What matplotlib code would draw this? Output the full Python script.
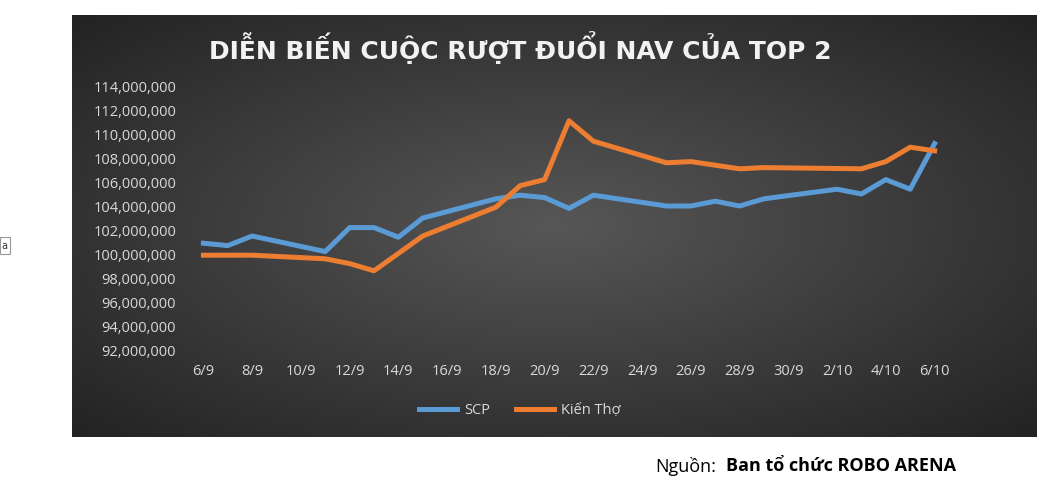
import numpy as np
import matplotlib
matplotlib.use("Agg")
import matplotlib.pyplot as plt
from matplotlib.patches import Rectangle

dates = ["6/9","7/9","8/9","9/9","10/9","11/9","12/9","13/9","14/9","15/9","16/9","17/9","18/9","19/9","20/9",
         "21/9","22/9","23/9","24/9","25/9","26/9","27/9","28/9","29/9","30/9","1/10","2/10","3/10","4/10","5/10","6/10"]
scp_idx = [0,1,2,5,6,7,8,9,12,13,14,15,16,19,20,21,22,23,26,27,28,29,30]
scp_val = [100.9,100.7,101.5,100.2,102.2,102.2,101.4,103.0,104.6,104.9,104.7,103.8,104.9,104.0,104.0,104.4,104.0,104.6,105.4,105.0,106.2,105.4,109.2]
kt_idx = [0,2,5,6,7,8,9,12,13,14,15,16,19,20,22,23,27,28,29,30]
kt_val = [99.9,99.9,99.6,99.2,98.6,100.05,101.5,103.9,105.7,106.2,111.1,109.4,107.6,107.7,107.1,107.2,107.1,107.7,108.9,108.6]
yticks = np.arange(92, 115, 2)

W, H = 1053, 492
fig = plt.figure(figsize=(W/100, H/100), dpi=100)
fig.patch.set_facecolor("white")

bg = fig.add_axes([72/W, 1-437/H, (1037-72)/W, (437-15)/H])
yy, xx = np.mgrid[-1:1:200j, -1:1:400j]
r = np.sqrt((xx*0.9)**2 + (yy*0.9)**2)
img = np.clip(0.34 - 0.16*r, 0, 1)
bg.imshow(np.dstack([img, img, img]), aspect="auto", extent=[0, 1, 0, 1])
bg.set_axis_off()

ax = fig.add_axes([190/W, 1-350/H, (948-190)/W, (350-86)/H])
ax.patch.set_alpha(0)
ax.plot(scp_idx, scp_val, color="#5b9bd5", lw=3.6, solid_joinstyle="round", label="SCP")
ax.plot(kt_idx, kt_val, color="#ed7d31", lw=3.6, solid_joinstyle="round", label="Kiến Thợ")
ax.set_xlim(-0.55, 30.55)
ax.set_ylim(92, 114)
ax.set_yticks(yticks)
ax.set_yticklabels([f"{v*1000000:,.0f}" for v in yticks])
ax.set_xticks(range(0, 31, 2))
ax.set_xticklabels(dates[::2])
for s in ax.spines.values():
    s.set_visible(False)
ax.tick_params(length=0, colors="#d9d9d9", labelsize=10.5, pad=10)
for t in ax.get_xticklabels() + ax.get_yticklabels():
    t.set_family("Open Sans")
leg = ax.legend(loc="upper center", bbox_to_anchor=(0.435, -0.15), ncol=2, frameon=False,
                prop={"family": "Open Sans", "size": 10.5}, handlelength=2.6, columnspacing=1.8,
                handletextpad=0.5)
for t in leg.get_texts():
    t.set_color("#d9d9d9")

fig.text(520/W, 1-48/H, "DIỄN BIẾN CUỘC RƯỢT ĐUỔI NAV CỦA TOP 2", ha="center", va="center",
         color="#f2f2f2", fontsize=18, fontweight="bold", family="DejaVu Sans")
fig.text(655/W, 1-466/H, "Nguồn:", ha="left", va="center", fontsize=13, family="Open Sans", color="black")
fig.text(726/W, 1-466/H, "Ban tổ chức ROBO ARENA", ha="left", va="center", fontsize=13,
         family="Open Sans", fontweight="bold", color="black")

fig.patches.append(Rectangle((0, 1-254/H), 10/W, 17/H, transform=fig.transFigure,
                             facecolor="white", edgecolor="#999999", lw=0.8))
fig.text(1/W, 1-246/H, "a", fontsize=7, va="center", color="#333333")

fig.savefig("out.png", dpi=100, facecolor="white")
